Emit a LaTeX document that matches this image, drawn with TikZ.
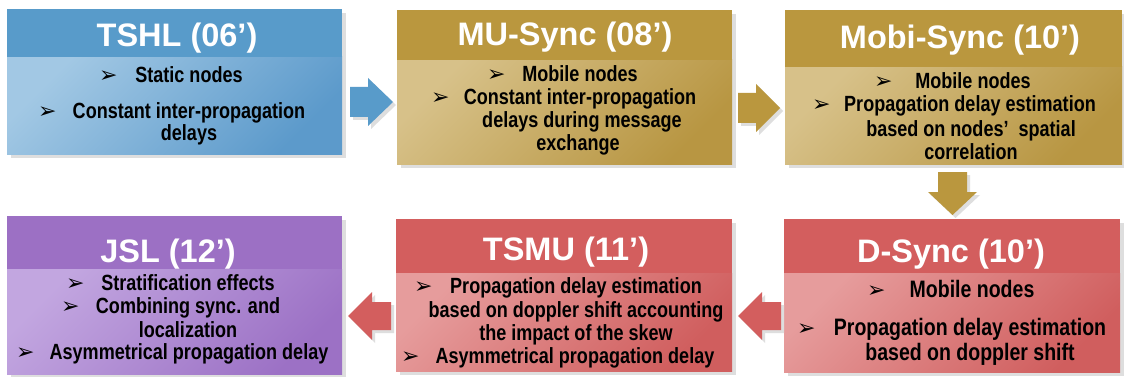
\documentclass[tikz,border=0pt]{standalone}
\usepackage{fontspec}
\setmainfont{Liberation Sans}
\newfontfamily\bodyfont[FakeStretch=0.82]{Liberation Sans}
\newfontfamily\symfont{DejaVu Sans}
\definecolor{blueH}{RGB}{88,155,202}
\definecolor{blueL}{RGB}{162,200,228}
\definecolor{blueD}{RGB}{92,154,203}
\definecolor{goldH}{RGB}{186,151,62}
\definecolor{goldL}{RGB}{215,193,137}
\definecolor{goldD}{RGB}{184,150,66}
\definecolor{redH}{RGB}{211,94,94}
\definecolor{redL}{RGB}{230,156,156}
\definecolor{redD}{RGB}{208,94,94}
\definecolor{purpH}{RGB}{156,112,196}
\definecolor{purpL}{RGB}{194,166,224}
\definecolor{purpD}{RGB}{156,113,197}
\definecolor{shadowc}{RGB}{222,222,222}
\tikzset{
  shadowfill/.style={fill=shadowc},
  title/.style={anchor=base, inner sep=0pt, text=white, font=\fontsize{32.5}{32.5}\selectfont\bfseries},
  txt/.style={anchor=base, inner sep=0pt, text=black, font=\bodyfont\bfseries\fontsize{22}{22}\selectfont},
  txtL/.style={anchor=base, inner sep=0pt, text=black, font=\bodyfont\bfseries\fontsize{23.8}{23.8}\selectfont},
  bul/.style={anchor=base west, inner sep=0pt, text=black, font=\symfont\fontsize{22}{22}\selectfont},
  bodyshade/.style n args={2}{top color=#1, bottom color=#2, shading angle=45},
}
% #1 name, #2 x1, #3 y1, #4 x2, #5 y2, #6 header bottom, #7 header colour, #8 light, #9 dark
\newcommand\Panel[9]{%
  \fill[shadowfill] ({#2+4},{#3+4}) rectangle ({#4+4},{#5+4});
  \shade[bodyshade={#8}{#9}] (#2,#6) rectangle (#4,#5);
  \fill[#7] (#2,#3) rectangle (#4,#6);
  \coordinate (#1-nw) at (#2,#3);
  \coordinate (#1-se) at (#4,#5);
}
% right block arrow: #1 colour, #2 x shaft start, #3 x head back, #4 x tip, #5 y centre, #6 shaft half, #7 head half
\newcommand\RArrow[7]{%
  \fill[shadowfill] ({#2+3},{#5-#6+3}) -- ({#3+3},{#5-#6+3}) -- ({#3+3},{#5-#7+3}) -- ({#4+3},{#5+3}) -- ({#3+3},{#5+#7+3}) -- ({#3+3},{#5+#6+3}) -- ({#2+3},{#5+#6+3}) -- cycle;
  \fill[#1] (#2,{#5-#6}) -- (#3,{#5-#6}) -- (#3,{#5-#7}) -- (#4,#5) -- (#3,{#5+#7}) -- (#3,{#5+#6}) -- (#2,{#5+#6}) -- cycle;
}
\begin{document}
\begin{tikzpicture}[x=1pt,y=-1pt]
\useasboundingbox (0,0) rectangle (1124,377);
\fill[white] (0,0) rectangle (1124,377);

% ---------- panels ----------
\Panel{b1}{7}{9}{342}{154}{57}{blueH}{blueL}{blueD}
\Panel{b2}{397}{10}{732}{164}{60}{goldH}{goldL}{goldD}
\Panel{b3}{785}{10}{1122}{164}{67}{goldH}{goldL}{goldD}
\Panel{b4}{7}{216}{342}{374}{269}{purpH}{purpL}{purpD}
\Panel{b5}{396}{219}{732}{371}{273}{redH}{redL}{redD}
\Panel{b6}{784}{219}{1120}{372}{273}{redH}{redL}{redD}

% ---------- block arrows ----------
\RArrow{blueH}{350}{368}{393}{102}{15}{24}
\RArrow{goldH}{738}{756}{780}{108}{15}{24}
% down arrow
\fill[shadowfill] (941,175) -- (970,175) -- (970,195) -- (980,195) -- (955.5,218) -- (931,195) -- (941,195) -- cycle;
\fill[goldH] (938,172) -- (967,172) -- (967,192) -- (977,192) -- (952.5,215) -- (928,192) -- (938,192) -- cycle;
% left arrows
\fill[shadowfill] (784,305) -- (765,305) -- (765,295) -- (741,319) -- (765,343) -- (765,333) -- (784,333) -- cycle;
\fill[redH] (781,302) -- (762,302) -- (762,292) -- (738,316) -- (762,340) -- (762,330) -- (781,330) -- cycle;
\fill[shadowfill] (394,305) -- (375,305) -- (375,295) -- (351,319) -- (375,343) -- (375,333) -- (394,333) -- cycle;
\fill[redH] (391,302) -- (372,302) -- (372,292) -- (348,316) -- (372,340) -- (372,330) -- (391,330) -- cycle;

% ---------- titles ----------
\node[title] (h1) at (177,47) {TSHL (06’)};
\node[title] (h2) at (565,46) {MU-Sync (08’)};
\node[title] (h3) at (960,49) {Mobi-Sync (10’)};
\node[title] (h4) at (168,262) {JSL (12’)};
\node[title] (h5) at (566,260) {TSMU (11’)};
\node[title] (h6) at (951,262) {D-Sync (10’)};

% ---------- TSHL ----------
\node[bul] (u11) at (99,83) {➢};
\node[txt] (t11) at (189,83) {Static nodes};
\node[bul] (u12) at (38,119) {➢};
\node[txt] (t12) at (189,119) {Constant inter-propagation};
\node[txt] (t13) at (189,140) {delays};

% ---------- MU-Sync ----------
\node[bul] (u21) at (487,82) {➢};
\node[txt] (t21) at (580,82) {Mobile nodes};
\node[bul] (u22) at (431,105) {➢};
\node[txt] (t22) at (580,105) {Constant inter-propagation};
\node[txt] (t23) at (582,128) {delays during message};
\node[txt] (t24) at (578,150) {exchange};

% ---------- Mobi-Sync ----------
\node[bul] (u31) at (874,89) {➢};
\node[txt] (t31) at (973,89) {Mobile nodes};
\node[bul] (u32) at (812,112) {➢};
\node[txt] (t32) at (970,112) {Propagation delay estimation};
\node[txt] (t33) at (971,136) {based on~nodes’~~spatial};
\node[txt] (t34) at (971,159) {correlation};

% ---------- JSL ----------
\node[bul] (u41) at (66,290) {➢};
\node[txt] (t41) at (188,290) {Stratification effects};
\node[bul] (u42) at (61,313) {➢};
\node[txt] (t42) at (188,313) {Combining sync. and};
\node[txt] (t43) at (188,337) {localization};
\node[bul] (u43) at (16,359) {➢};
\node[txt] (t44) at (189,359) {Asymmetrical propagation delay};

% ---------- TSMU ----------
\node[bul] (u51) at (414,293) {➢};
\node[txt] (t51) at (576,293) {Propagation delay estimation};
\node[txt] (t52) at (576,317) {based on doppler shift accounting};
\node[txt] (t53) at (576,340) {the impact of the skew};
\node[bul] (u52) at (401,363) {➢};
\node[txt] (t54) at (575,363) {Asymmetrical propagation delay};

% ---------- D-Sync ----------
\node[bul] (u61) at (867,297) {➢};
\node[txtL] (t61) at (972,297) {Mobile nodes};
\node[bul] (u62) at (797,335) {➢};
\node[txtL] (t62) at (970,335) {Propagation delay estimation};
\node[txtL] (t63) at (970,360) {based on doppler shift};
\end{tikzpicture}
\end{document}
